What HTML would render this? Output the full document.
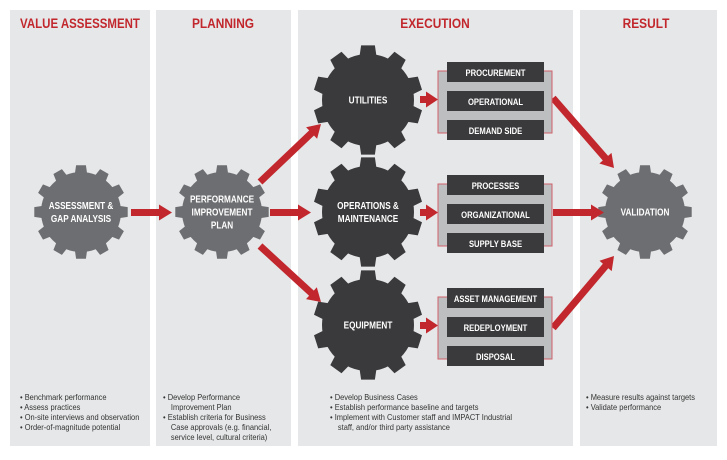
<!DOCTYPE html>
<html><head><meta charset="utf-8"><style>
body{margin:0;background:#fff;width:727px;height:455px;overflow:hidden;font-family:"Liberation Sans",sans-serif}
</style></head><body>
<svg id="s" width="727" height="455" xmlns="http://www.w3.org/2000/svg" font-family="Liberation Sans, sans-serif">
<rect x="10" y="10" width="140" height="436" fill="#e6e7e8"/>
<rect x="156" y="10" width="135" height="436" fill="#e6e7e8"/>
<rect x="298" y="10" width="275" height="436" fill="#e6e7e8"/>
<rect x="580" y="10" width="137" height="436" fill="#e6e7e8"/>
<g fill="#c1272d" font-weight="bold" font-size="14" text-anchor="middle">
<text transform="translate(80 28) scale(0.82 1)">VALUE ASSESSMENT</text>
<text transform="translate(223 28) scale(0.85 1)">PLANNING</text>
<text transform="translate(435 28) scale(0.85 1)">EXECUTION</text>
<text transform="translate(646 28) scale(0.85 1)">RESULT</text>
</g>
<g id="gears"></g>
<g id="arrows" fill="#c1272d"></g>
<g id="boxes"></g>
<g font-size="8.5" fill="#333">
<g transform="translate(20 0) scale(0.88 1)">
<text x="0" y="400">• Benchmark performance</text>
<text x="0" y="410">• Assess practices</text>
<text x="0" y="420">• On-site interviews and observation</text>
<text x="0" y="430">• Order-of-magnitude potential</text></g>
<g transform="translate(163 0) scale(0.88 1)">
<text x="0" y="400">• Develop Performance</text>
<text x="9" y="410">Improvement Plan</text>
<text x="0" y="420">• Establish criteria for Business</text>
<text x="9" y="430">Case approvals (e.g. financial,</text>
<text x="9" y="440">service level, cultural criteria)</text></g>
<g transform="translate(330 0) scale(0.88 1)">
<text x="0" y="400">• Develop Business Cases</text>
<text x="0" y="410">• Establish performance baseline and targets</text>
<text x="0" y="420">• Implement with Customer staff and IMPACT Industrial</text>
<text x="9" y="430">staff, and/or third party assistance</text></g>
<g transform="translate(586 0) scale(0.88 1)">
<text x="0" y="400">• Measure results against targets</text>
<text x="0" y="410">• Validate performance</text></g>
</g>
</svg>
<script>
var NS="http://www.w3.org/2000/svg";
function el(n,a,p){var e=document.createElementNS(NS,n);for(var k in a)e.setAttribute(k,a[k]);p.appendChild(e);return e;}
function gear(cx,cy,R,r,n,fill,lines){
 var d="",st=Math.PI*2/n;
 for(var i=0;i<n;i++){var a=i*st-Math.PI/2;
  var pts=[[r,a-st*0.3],[R,a-st*0.2],[R,a+st*0.2],[r,a+st*0.3]];
  pts.forEach(function(p,j){d+=(i==0&&j==0?"M":"L")+(cx+p[0]*Math.cos(p[1])).toFixed(1)+","+(cy+p[0]*Math.sin(p[1])).toFixed(1)});
 }
 var g=document.getElementById("gears");
 el("path",{d:d+"Z",fill:fill},g);
 el("circle",{cx:cx,cy:cy,r:r+1,fill:fill},g);
 var y0=cy-(lines.length-1)*6.5+3.5;
 lines.forEach(function(t,i){var e=el("text",{transform:"translate("+cx+" "+(y0+i*13)+") scale(0.82 1)",fill:"#fff","font-size":"10","font-weight":"bold","text-anchor":"middle"},g);e.textContent=t;});
}
gear(81,212,47,39,12,"#6d6e71",["ASSESSMENT &","GAP ANALYSIS"]);
gear(222,212,47,39,12,"#6d6e71",["PERFORMANCE","IMPROVEMENT","PLAN"]);
gear(368,100,55,45,10,"#3a3a3c",["UTILITIES"]);
gear(368,212,55,45,10,"#3a3a3c",["OPERATIONS &","MAINTENANCE"]);
gear(368,325,55,45,10,"#3a3a3c",["EQUIPMENT"]);
gear(645,212,47,39,12,"#6d6e71",["VALIDATION"]);
function arrow(x1,y1,x2,y2,hl,hw){
 var dx=x2-x1,dy=y2-y1,L=Math.sqrt(dx*dx+dy*dy),ux=dx/L,uy=dy/L,nx=-uy,ny=ux,w=3.5;hw=hw||8;hl=hl||13;
 var bx=x2-ux*hl,by=y2-uy*hl;
 var P=[[x1+nx*w,y1+ny*w],[bx+nx*w,by+ny*w],[bx+nx*hw,by+ny*hw],[x2,y2],[bx-nx*hw,by-ny*hw],[bx-nx*w,by-ny*w],[x1-nx*w,y1-ny*w]];
 el("polygon",{points:P.map(function(p){return p[0].toFixed(1)+","+p[1].toFixed(1)}).join(" ")},document.getElementById("arrows"));
}
arrow(131,212.5,172,212.5);
arrow(270,212.5,311,212.5);
arrow(260,182,321,124);
arrow(260,246,321,302);
arrow(420,99.5,438,99.5,12,8);
arrow(420,212.5,438,212.5,12,8);
arrow(420,325.5,438,325.5,12,8);
arrow(553,98,614,168);
arrow(553,212.5,604,212.5);
arrow(553,328,614,256);
var B=document.getElementById("boxes");
function box(y,labels){
 el("rect",{x:438,y:y+9,width:114,height:62,fill:"#bcbec0",stroke:"#d0606a","stroke-width":1},B);
 labels.forEach(function(t,i){var yy=y+i*29;
  el("rect",{x:447,y:yy,width:97,height:20,fill:"#3a3a3c"},B);
  var e=el("text",{transform:"translate(495.5 "+(yy+14)+") scale(0.85 1)",fill:"#fff","font-size":"9","font-weight":"bold","text-anchor":"middle"},B);e.textContent=t;});
}
box(62,["PROCUREMENT","OPERATIONAL","DEMAND SIDE"]);
box(175,["PROCESSES","ORGANIZATIONAL","SUPPLY BASE"]);
box(288,["ASSET MANAGEMENT","REDEPLOYMENT","DISPOSAL"]);
</script>
</body></html>
